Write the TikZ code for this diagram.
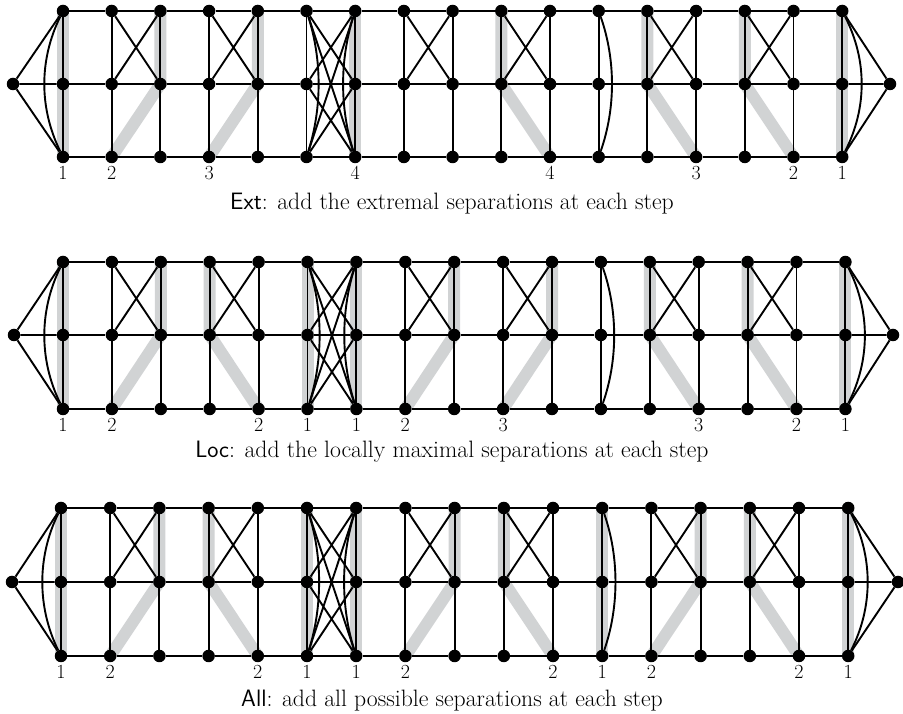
\documentclass[tikz,border=0pt]{standalone}
\usetikzlibrary{calc}
\definecolor{sepgray}{RGB}{209,211,212}
\pgfdeclarelayer{sepl}
\pgfdeclarelayer{edgel}
\pgfsetlayers{sepl,edgel,main}
\tikzset{
  vtx/.style={circle,fill=black,draw=none,inner sep=0pt,minimum size=12.5pt},
  edge/.style={line width=1.9pt,black},
  sepband/.style={line width=12pt,sepgray},
  lab/.style={font=\fontsize{20}{22}\selectfont,anchor=base,inner sep=0pt},
  captext/.style={font=\fontsize{23.7}{28}\selectfont,anchor=base,inner sep=0pt}
}
% #1 prefix, #2 left x, #3 first column x, #4 column step, #5 right x, #6 top y, #7 mid y, #8 bottom y (image coords)
\newcommand{\graphrow}[8]{%
  \node[vtx] (#1-L) at (#2,{714-#7}) {};
  \node[vtx] (#1-R) at (#5,{714-#7}) {};
  \foreach \i in {1,...,17}{%
    \pgfmathsetmacro\xx{#3+(\i-1)*#4}%
    \node[vtx] (#1-\i-t) at (\xx,{714-#6}) {};
    \node[vtx] (#1-\i-m) at (\xx,{714-#7}) {};
    \node[vtx] (#1-\i-b) at (\xx,{714-#8}) {};
  }%
  \begin{pgfonlayer}{edgel}
    \draw[edge] (#1-L) -- (#1-1-t) (#1-L) -- (#1-1-m) (#1-L) -- (#1-1-b)
                (#1-R) -- (#1-17-t) (#1-R) -- (#1-17-m) (#1-R) -- (#1-17-b);
    \foreach \i in {1,...,16}{%
      \pgfmathtruncatemacro\j{\i+1}%
      \draw[edge] (#1-\i-t) -- (#1-\j-t) (#1-\i-m) -- (#1-\j-m) (#1-\i-b) -- (#1-\j-b);
    }%
    \foreach \i in {1,...,17}{%
      \draw[edge] (#1-\i-t) -- (#1-\i-m) -- (#1-\i-b);
    }%
    \foreach \i in {2,4,8,10,13,15}{%
      \pgfmathtruncatemacro\j{\i+1}%
      \draw[edge] (#1-\i-t) -- (#1-\j-m) (#1-\i-m) -- (#1-\j-t);
    }%
    \draw[edge] (#1-6-t) -- (#1-7-m) (#1-6-t) -- (#1-7-b)
                (#1-6-m) -- (#1-7-t) (#1-6-m) -- (#1-7-b)
                (#1-6-b) -- (#1-7-t) (#1-6-b) -- (#1-7-m);
    \draw[edge] (#1-1-t) .. controls +(-24,-49) and +(-24,49) .. (#1-1-b);
    \draw[edge] (#1-6-t) .. controls +(15.5,-49) and +(15.5,49) .. (#1-6-b);
    \draw[edge] (#1-7-t) .. controls +(-15.5,-49) and +(-15.5,49) .. (#1-7-b);
    \draw[edge] (#1-12-t) .. controls +(17,-49) and +(17,49) .. (#1-12-b);
    \draw[edge] (#1-17-t) .. controls +(25,-49) and +(25,49) .. (#1-17-b);
  \end{pgfonlayer}%
}
\newcommand{\sepV}[2]{\begin{pgfonlayer}{sepl}\draw[sepband] (#1-#2-t.center) -- (#1-#2-b.center);\end{pgfonlayer}}
\newcommand{\sepD}[3]{\begin{pgfonlayer}{sepl}\draw[sepband] (#1-#2-t.center) -- (#1-#2-m.center) -- (#1-#3-b.center);\end{pgfonlayer}}
\newcommand{\seplab}[3]{\node[lab] (#1-lab-#2) at ([yshift=-23pt]#1-#2-b.center) {#3};}
\begin{document}
\begin{tikzpicture}[x=1pt,y=1pt]
\useasboundingbox (0,0) rectangle (903,714);
% Row 1: Ext
\graphrow{a}{13}{63}{48.7}{890}{11}{84}{157}
\sepV{a}{1}\sepD{a}{3}{2}\sepD{a}{5}{4}\sepV{a}{7}\sepD{a}{10}{11}\sepD{a}{13}{14}\sepD{a}{15}{16}\sepV{a}{17}
\seplab{a}{1}{1}\seplab{a}{2}{2}\seplab{a}{4}{3}\seplab{a}{7}{4}\seplab{a}{11}{4}\seplab{a}{14}{3}\seplab{a}{16}{2}\seplab{a}{17}{1}
\node[captext] (capa) at (452,{714-209.5}) {\textsf{Ext}: add the extremal separations at each step};
% Row 2: Loc
\graphrow{b}{14}{63}{48.9}{893}{262}{335}{409}
\sepV{b}{1}\sepD{b}{3}{2}\sepD{b}{4}{5}\sepV{b}{6}\sepV{b}{7}\sepD{b}{9}{8}\sepD{b}{11}{10}\sepD{b}{13}{14}\sepD{b}{15}{16}\sepV{b}{17}
\seplab{b}{1}{1}\seplab{b}{2}{2}\seplab{b}{5}{2}\seplab{b}{6}{1}\seplab{b}{7}{1}\seplab{b}{8}{2}\seplab{b}{10}{3}\seplab{b}{14}{3}\seplab{b}{16}{2}\seplab{b}{17}{1}
\node[captext] (capb) at (452,{714-458}) {\textsf{Loc}: add the locally maximal separations at each step};
% Row 3: All
\graphrow{c}{12}{61}{49.2}{898}{508}{582}{656}
\sepV{c}{1}\sepD{c}{3}{2}\sepD{c}{4}{5}\sepV{c}{6}\sepV{c}{7}\sepD{c}{9}{8}\sepD{c}{10}{11}\sepV{c}{12}\sepD{c}{14}{13}\sepD{c}{15}{16}\sepV{c}{17}
\seplab{c}{1}{1}\seplab{c}{2}{2}\seplab{c}{5}{2}\seplab{c}{6}{1}\seplab{c}{7}{1}\seplab{c}{8}{2}\seplab{c}{11}{2}\seplab{c}{12}{1}\seplab{c}{13}{2}\seplab{c}{16}{2}\seplab{c}{17}{1}
\node[captext] (capc) at (452,{714-707}) {\textsf{All}: add all possible separations at each step};
\end{tikzpicture}
\end{document}
